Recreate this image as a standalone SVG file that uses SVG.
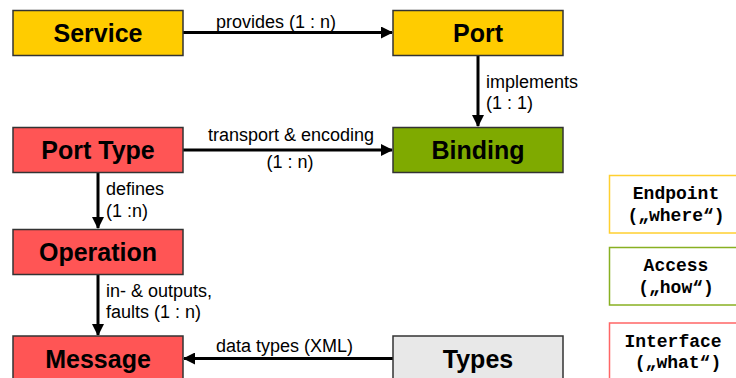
<svg xmlns="http://www.w3.org/2000/svg" width="736" height="378" viewBox="0 0 736 378">
  <style>
    .box { stroke: #333333; stroke-width: 1.5; }
    .yellow { fill: #FFCC00; }
    .red { fill: #FF5555; }
    .green { fill: #7FAA00; }
    .grey { fill: #E8E8E8; }
    .title { font-family: "Liberation Sans", Arial, sans-serif; font-weight: bold; font-size: 25px; fill: #000; text-anchor: middle; }
    .lbl { font-family: "Liberation Sans", Arial, sans-serif; font-size: 18px; fill: #000; }
    .edge { stroke: #000; stroke-width: 3; fill: none; marker-end: url(#arrow); }
    .legend { fill: #fff; stroke-width: 1.5; }
    .mono { font-family: "Liberation Mono", "Courier New", monospace; font-weight: bold; font-size: 18px; fill: #000; }
  </style>
  <defs>
    <marker id="arrow" markerWidth="12" markerHeight="12" viewBox="0 0 12 12" refX="11" refY="6" orient="auto" markerUnits="userSpaceOnUse">
      <path d="M0,0 L12,6 L0,12 Z" fill="#000"/>
    </marker>
  </defs>
  <rect width="736" height="378" fill="#fff"/>

  <!-- connectors -->
  <g id="connectors">
    <line class="edge" x1="183" y1="32.5" x2="392" y2="32.5"/>
    <text class="lbl" x="216" y="28">provides (1 : n)</text>

    <line class="edge" x1="478" y1="55" x2="478" y2="126"/>
    <text class="lbl" x="486" y="88">implements</text>
    <text class="lbl" x="486" y="109">(1 : 1)</text>

    <line class="edge" x1="183" y1="150" x2="392" y2="150"/>
    <text class="lbl" x="208" y="141">transport &amp; encoding</text>
    <text class="lbl" x="290" y="168" text-anchor="middle">(1 : n)</text>

    <line class="edge" x1="98" y1="173" x2="98" y2="228"/>
    <text class="lbl" x="106" y="195">defines</text>
    <text class="lbl" x="106" y="217">(1 :n)</text>

    <line class="edge" x1="98" y1="274" x2="98" y2="335"/>
    <text class="lbl" x="106" y="297">in- &amp; outputs,</text>
    <text class="lbl" x="106" y="318">faults (1 : n)</text>

    <line class="edge" x1="393" y1="358.5" x2="184" y2="358.5"/>
    <text class="lbl" x="216" y="352">data types (XML)</text>
  </g>

  <!-- nodes -->
  <g id="service">
    <rect class="box yellow" x="13" y="10.5" width="170" height="45"/>
    <text class="title" x="98" y="42">Service</text>
  </g>
  <g id="port">
    <rect class="box yellow" x="393" y="10.5" width="170" height="45"/>
    <text class="title" x="478" y="42">Port</text>
  </g>
  <g id="port-type">
    <rect class="box red" x="13" y="127.5" width="170" height="45"/>
    <text class="title" x="98" y="159">Port Type</text>
  </g>
  <g id="binding">
    <rect class="box green" x="393" y="127.5" width="170" height="45"/>
    <text class="title" x="478" y="159">Binding</text>
  </g>
  <g id="operation">
    <rect class="box red" x="13" y="229.5" width="170" height="45"/>
    <text class="title" x="98" y="261">Operation</text>
  </g>
  <g id="message">
    <rect class="box red" x="13" y="336" width="170" height="45"/>
    <text class="title" x="98" y="368">Message</text>
  </g>
  <g id="types">
    <rect class="box grey" x="393" y="336" width="170" height="45"/>
    <text class="title" x="478" y="368">Types</text>
  </g>

  <!-- legend -->
  <g id="legend-endpoint">
    <rect class="legend" x="609.5" y="175.5" width="135" height="57.5" stroke="#FFD030"/>
    <text class="mono" x="676" y="199" text-anchor="middle">Endpoint</text>
    <text class="mono" x="676" y="221" text-anchor="middle">(„where“)</text>
  </g>
  <g id="legend-access">
    <rect class="legend" x="609.5" y="247.5" width="135" height="57.5" stroke="#88B022"/>
    <text class="mono" x="676" y="271" text-anchor="middle">Access</text>
    <text class="mono" x="676" y="293" text-anchor="middle">(„how“)</text>
  </g>
  <g id="legend-interface">
    <rect class="legend" x="609.5" y="323" width="135" height="57.5" stroke="#FF6666"/>
    <text class="mono" x="673" y="347" text-anchor="middle">Interface</text>
    <text class="mono" x="678" y="368" text-anchor="middle">(„what“)</text>
  </g>
</svg>
